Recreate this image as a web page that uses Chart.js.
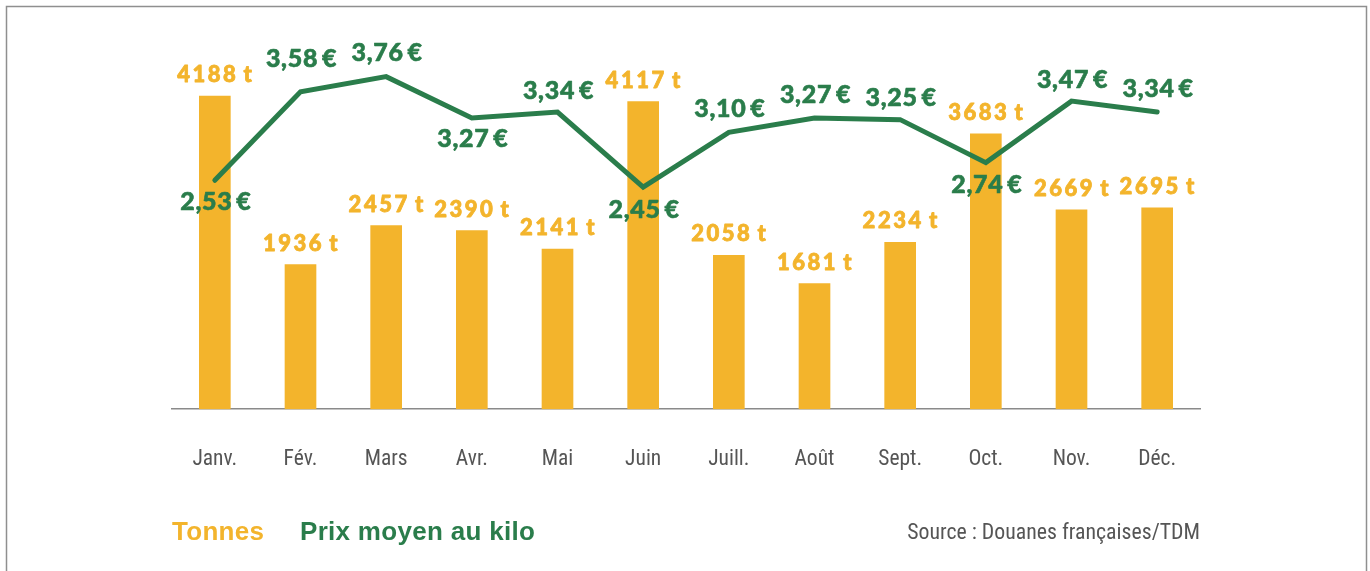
<!DOCTYPE html>
<html>
<head>
<meta charset="utf-8">
<script src="https://cdn.jsdelivr.net/npm/chart.js@4.4.1/dist/chart.umd.min.js"></script>
<style>
  html, body { margin: 0; padding: 0; background: #fff; }
  #wrap { position: relative; width: 1370px; height: 571px; }
  canvas { display: block; }
</style>
</head>
<body>
<div id="wrap"><canvas id="c" width="1370" height="571"></canvas></div>
<script>
const months = ['Janv.', 'Fév.', 'Mars', 'Avr.', 'Mai', 'Juin', 'Juill.', 'Août', 'Sept.', 'Oct.', 'Nov.', 'Déc.'];
const tonnes = [4188, 1936, 2457, 2390, 2141, 4117, 2058, 1681, 2234, 3683, 2669, 2695];
const prix = [2.53, 3.58, 3.76, 3.27, 3.34, 2.45, 3.10, 3.27, 3.25, 2.74, 3.47, 3.34];
const seriesNames = ['Tonnes', 'Prix moyen au kilo'];
const sourceText = 'Source : Douanes françaises/TDM';

// label placement (pixel offsets from the point), kept apart from data
const prixLabelOffset = [22, -33, -24, 21, -21, 23, -23, -23, -22, 22, -21, -23];

const YELLOW = '#F3B42C';
const GREEN = '#2A7D4B';
const T_FONT = '900 22px Lato, "Open Sans", sans-serif';
const P_FONT = '900 25px Lato, "Open Sans", sans-serif';
const NARROW = '"Liberation Sans Narrow", "Roboto Condensed", Roboto, sans-serif';

function fmtT(v) { return String(v) + '\u2009t'; }
function fmtP(v) { return v.toFixed(2).replace('.', ',') + '\u2009€'; }

const labelsPlugin = {
  id: 'labelsPlugin',
  beforeDraw(chart) {
    const ctx = chart.ctx;
    ctx.save();
    ctx.strokeStyle = '#8f8f8f';
    ctx.lineWidth = 1.5;
    ctx.beginPath();
    ctx.moveTo(6.5, 580);
    ctx.lineTo(6.5, 6.5);
    ctx.lineTo(1366.5, 6.5);
    ctx.lineTo(1366.5, 580);
    ctx.stroke();
    ctx.restore();
  },
  afterDatasetsDraw(chart) {
    const ctx = chart.ctx;
    const hasLS = 'letterSpacing' in ctx;
    ctx.save();
    ctx.textAlign = 'center';
    ctx.textBaseline = 'middle';
    ctx.lineJoin = 'round';
    ctx.font = T_FONT;
    if (hasLS) ctx.letterSpacing = '2.5px';
    const barMeta = chart.getDatasetMeta(0);
    ctx.fillStyle = YELLOW;
    ctx.strokeStyle = YELLOW;
    ctx.lineWidth = 0.8;
    barMeta.data.forEach((el, i) => {
      ctx.fillText(fmtT(tonnes[i]), el.x + 1, el.y - 21);
      ctx.strokeText(fmtT(tonnes[i]), el.x + 1, el.y - 21);
    });
    ctx.font = P_FONT;
    if (hasLS) ctx.letterSpacing = '0.7px';
    const lineMeta = chart.getDatasetMeta(1);
    ctx.fillStyle = GREEN;
    ctx.strokeStyle = GREEN;
    ctx.lineWidth = 0.6;
    lineMeta.data.forEach((el, i) => {
      ctx.fillText(fmtP(prix[i]), el.x + 1, el.y + prixLabelOffset[i]);
      ctx.strokeText(fmtP(prix[i]), el.x + 1, el.y + prixLabelOffset[i]);
    });
    ctx.restore();

    // legend + source
    ctx.save();
    if (hasLS) ctx.letterSpacing = '0.3px';
    ctx.textBaseline = 'alphabetic';
    ctx.textAlign = 'left';
    ctx.font = 'bold 26px "Liberation Sans", Arial, sans-serif';
    ctx.fillStyle = YELLOW;
    ctx.fillText(chart.data.datasets[0].label, 172, 540);
    ctx.fillStyle = GREEN;
    ctx.fillText(chart.data.datasets[1].label, 300, 540);
    if (hasLS) ctx.letterSpacing = '0px';
    ctx.font = '21.8px ' + NARROW;
    ctx.fillStyle = '#555555';
    ctx.textAlign = 'right';
    ctx.fillText(sourceText, 1200, 539);
    ctx.restore();
  }
};

new Chart(document.getElementById('c'), {
  data: {
    labels: months,
    datasets: [
      {
        type: 'bar',
        label: seriesNames[0],
        data: tonnes,
        backgroundColor: YELLOW,
        barThickness: 31,
        yAxisID: 'y',
        order: 2
      },
      {
        type: 'line',
        label: seriesNames[1],
        data: prix,
        borderColor: GREEN,
        borderWidth: 5,
        pointRadius: 0,
        tension: 0,
        borderCapStyle: 'round',
        borderJoinStyle: 'miter',
        yAxisID: 'y1',
        order: 1
      }
    ]
  },
  options: {
    responsive: false,
    animation: false,
    layout: { padding: { left: 172, right: 170, top: 40, bottom: 60 } },
    plugins: {
      legend: { display: false },
      tooltip: { enabled: false }
    },
    scales: {
      x: {
        offset: true,
        grid: { display: false, drawTicks: false },
        border: { display: true, color: '#8a8a8a', width: 1.5 },
        ticks: {
          color: '#555555',
          padding: 38,
          font: { family: NARROW, size: 21.5 }
        }
      },
      y: {
        display: false,
        min: 0,
        max: 4939.5
      },
      y1: {
        display: false,
        min: -0.186,
        max: 4.195
      }
    }
  },
  plugins: [labelsPlugin]
});
</script>
</body>
</html>
